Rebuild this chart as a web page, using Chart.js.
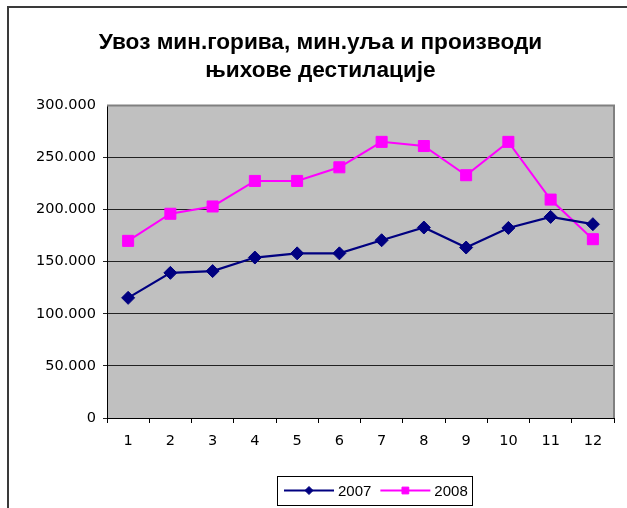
<!DOCTYPE html>
<html><head><meta charset="utf-8">
<script src="https://cdn.jsdelivr.net/npm/chart.js@4/dist/chart.umd.min.js"></script>
<style>html,body{margin:0;padding:0;background:#fff}#wrap{position:relative;width:627px;height:508px}canvas{display:block}</style>
</head><body><div id="wrap"><canvas id="c" width="627" height="508"></canvas></div>
<script>
const categories = ['1','2','3','4','5','6','7','8','9','10','11','12'];
const seriesNames = ['2007','2008'];
const values2007 = [115300,139300,141000,154000,158000,158000,170600,182800,163600,182400,193000,186000];
const values2008 = [170000,196000,203000,227500,227500,240600,265000,261000,233000,265000,209600,171600];
const yTicks = [0,50000,100000,150000,200000,250000,300000];
const titleLines = ['Увоз мин.горива, мин.уља и производи','њихове дестилације'];

function fmt(v){
  if (v === 0) return '0';
  const s = String(Math.round(v));
  return s.replace(/\B(?=(\d{3})+(?!\d))/g, '.');
}

const bgPlugin = {
  id:'bg',
  beforeDraw(chart){
    const {ctx, chartArea:a} = chart;
    ctx.save();
    ctx.fillStyle = '#fff';
    ctx.fillRect(0,0,chart.width,chart.height);
    ctx.fillStyle = '#C0C0C0';
    ctx.fillRect(a.left, a.top, a.right-a.left, a.bottom-a.top);
    ctx.restore();
  },
  beforeDatasetsDraw(chart){
    const {ctx, chartArea:a} = chart;
    ctx.save();
    ctx.strokeStyle = '#808080';
    ctx.lineWidth = 2;
    ctx.beginPath();
    ctx.moveTo(a.left, a.top);
    ctx.lineTo(a.right, a.top);
    ctx.lineTo(a.right, a.bottom);
    ctx.stroke();
    ctx.restore();
  },
  afterDraw(chart){
    const ctx = chart.ctx;
    ctx.save();
    ctx.strokeStyle = '#3a3a3a';
    ctx.lineWidth = 2;
    ctx.beginPath();
    ctx.moveTo(8, chart.height+2);
    ctx.lineTo(8, 7);
    ctx.lineTo(chart.width+2, 7);
    ctx.stroke();
    ctx.restore();
  }
};

const legendPlugin = {
  id:'boxLegend',
  afterDraw(chart){
    const ctx = chart.ctx;
    const boxL = 277, boxT = 476, boxW = 195, boxH = 29;
    const cy = boxT + boxH/2;
    ctx.save();
    ctx.fillStyle = '#fff';
    ctx.fillRect(boxL, boxT, boxW, boxH);
    ctx.strokeStyle = '#000';
    ctx.lineWidth = 1;
    ctx.strokeRect(boxL+0.5, boxT+0.5, boxW, boxH);
    ctx.font = '15px "Liberation Sans", Arial, sans-serif';
    ctx.textBaseline = 'middle';
    ctx.textAlign = 'left';
    let x = boxL + 7;
    chart.data.datasets.forEach((ds) => {
      const lineLen = 50;
      ctx.strokeStyle = ds.borderColor;
      ctx.lineWidth = 2;
      ctx.beginPath();
      ctx.moveTo(x, cy);
      ctx.lineTo(x+lineLen, cy);
      ctx.stroke();
      ctx.fillStyle = ds.backgroundColor;
      ctx.strokeStyle = ds.borderColor;
      ctx.lineWidth = 1;
      Chart.helpers.drawPoint(ctx, {pointStyle: ds.pointStyle, radius: ds.legendRadius, rotation: 0, borderWidth: 1}, x+lineLen/2, cy);
      ctx.fillStyle = '#000';
      ctx.fillText(ds.label, x+lineLen+4, cy+1);
      x += lineLen + 4 + ctx.measureText(ds.label).width + 9;
    });
    ctx.restore();
  }
};

new Chart(document.getElementById('c'), {
  type:'line',
  data:{
    labels: categories,
    datasets:[
      {label: seriesNames[0], data: values2007, borderColor:'#000080', backgroundColor:'#000080',
       borderWidth:2.2, pointStyle:'rectRot', pointRadius:6.5, pointBorderWidth:1, tension:0, legendRadius:4},
      {label: seriesNames[1], data: values2008, borderColor:'#FF00FF', backgroundColor:'#FF00FF',
       borderWidth:2, pointStyle:'rect', pointRadius:7.8, pointBorderWidth:1, tension:0, legendRadius:4.8}
    ]
  },
  options:{
    responsive:false,
    animation:false,
    events:[],
    layout:{padding:{left:27, right:13, top:0, bottom:50}},
    plugins:{
      legend:{display:false},
      tooltip:{enabled:false},
      title:{display:true, text:titleLines, color:'#000',
        font:{family:'"Liberation Sans", Arial, sans-serif', size:22.6, weight:'bold', lineHeight:1.27},
        padding:{top:28, bottom:20}}
    },
    scales:{
      x:{
        type:'category', offset:true,
        grid:{offset:true, drawOnChartArea:false, drawTicks:true, tickLength:5, color:'#000'},
        border:{color:'#000', width:1},
        ticks:{color:'#000', font:{family:'"DejaVu Sans", Verdana, sans-serif', size:14.5}, padding:10, maxRotation:0, autoSkip:false},
        afterFit(s){ s.height = 40; }
      },
      y:{
        min:0, max:300000,
        afterBuildTicks(s){ s.ticks = yTicks.map(v => ({value:v})); },
        ticks:{color:'#000', font:{family:'"DejaVu Sans", Verdana, sans-serif', size:14.5}, padding:7, callback:(v)=>fmt(v)},
        grid:{tickLength:4, color:(c)=> (c.tick && c.tick.value===300000) ? 'rgba(0,0,0,0)' : '#222', lineWidth:1},
        border:{color:'#000', width:1},
        afterFit(s){ s.width = 80; }
      }
    }
  },
  plugins:[bgPlugin, legendPlugin]
});
</script>
</body></html>
